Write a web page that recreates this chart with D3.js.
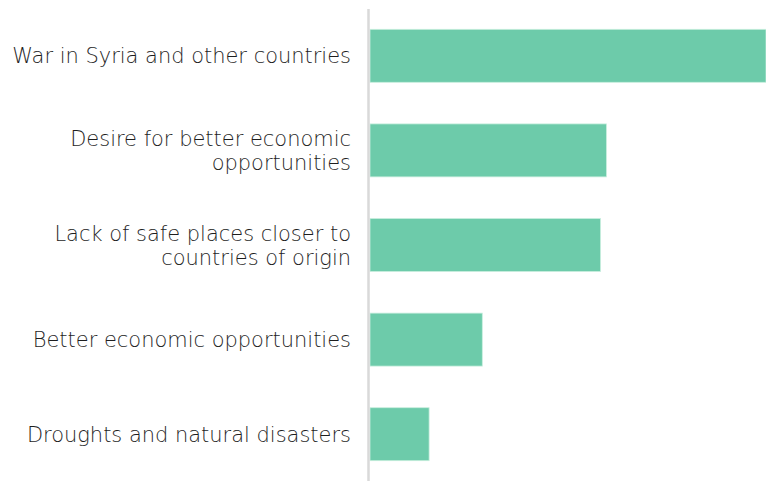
<!DOCTYPE html>
<html>
<head>
<meta charset="utf-8">
<script src="https://cdn.jsdelivr.net/npm/d3@7"></script>
<style>
  html, body { margin: 0; padding: 0; background: #fff; }
  svg { display: block; }
  .label { font-family: "DejaVu Sans", sans-serif; font-weight: 200; fill: #1e1e1e; }
</style>
</head>
<body>
<svg id="chart" width="766" height="481"></svg>
<script>
// Reasons given for the refugee flows (share of respondents, %)
const categories = [
  ["War in Syria and other countries"],
  ["Desire for better economic", "opportunities"],
  ["Lack of safe places closer to", "countries of origin"],
  ["Better economic opportunities"],
  ["Droughts and natural disasters"]
];
const values = [67, 40, 39, 19, 10];

const width = 766, height = 481;
const axisX = 370;
const labelRight = 351;
const labelSpan = 339;   // width available to the longest single-line label
const svg = d3.select("#chart");

const keys = categories.map((c, i) => i);

const y = d3.scaleBand()
  .domain(keys)
  .range([8.5, 481.5])
  .paddingInner(0.44)
  .paddingOuter(0.22);

const x = d3.scaleLinear()
  .domain([0, d3.max(values)])
  .range([axisX, width]);

// bars
svg.append("g")
  .selectAll("rect")
  .data(values)
  .join("rect")
  .attr("x", x(0))
  .attr("y", (d, i) => y(i))
  .attr("width", d => x(d) - x(0))
  .attr("height", y.bandwidth())
  .attr("fill", "#6dcbaa")
  .attr("stroke", "#c9eede")
  .attr("stroke-width", 0.8);

// category axis line
svg.append("line")
  .attr("x1", axisX - 1.5).attr("x2", axisX - 1.5)
  .attr("y1", 9).attr("y2", height)
  .attr("stroke", "#d9d9d9")
  .attr("stroke-width", 2.5);

// size the label font so the first label fills its span
const probe = svg.append("text").attr("class", "label")
  .attr("font-size", 20).text(categories[0][0]);
const fontSize = 20 * labelSpan / probe.node().getComputedTextLength();
probe.remove();

// category labels
const lineH = 24;
const labels = svg.append("g")
  .selectAll("text")
  .data(categories)
  .join("text")
  .attr("class", "label")
  .attr("text-anchor", "end")
  .attr("font-size", fontSize)
  .attr("x", labelRight)
  .attr("y", (d, i) => y(i) + y.bandwidth() / 2);

labels.selectAll("tspan")
  .data(d => d.map((t, j) => ({ t, j, n: d.length })))
  .join("tspan")
  .attr("x", labelRight)
  .attr("dy", d => d.j === 0 ? ((-(d.n - 1) / 2) * lineH + 7.5) + "px" : lineH + "px")
  .text(d => d.t);
</script>
</body>
</html>
